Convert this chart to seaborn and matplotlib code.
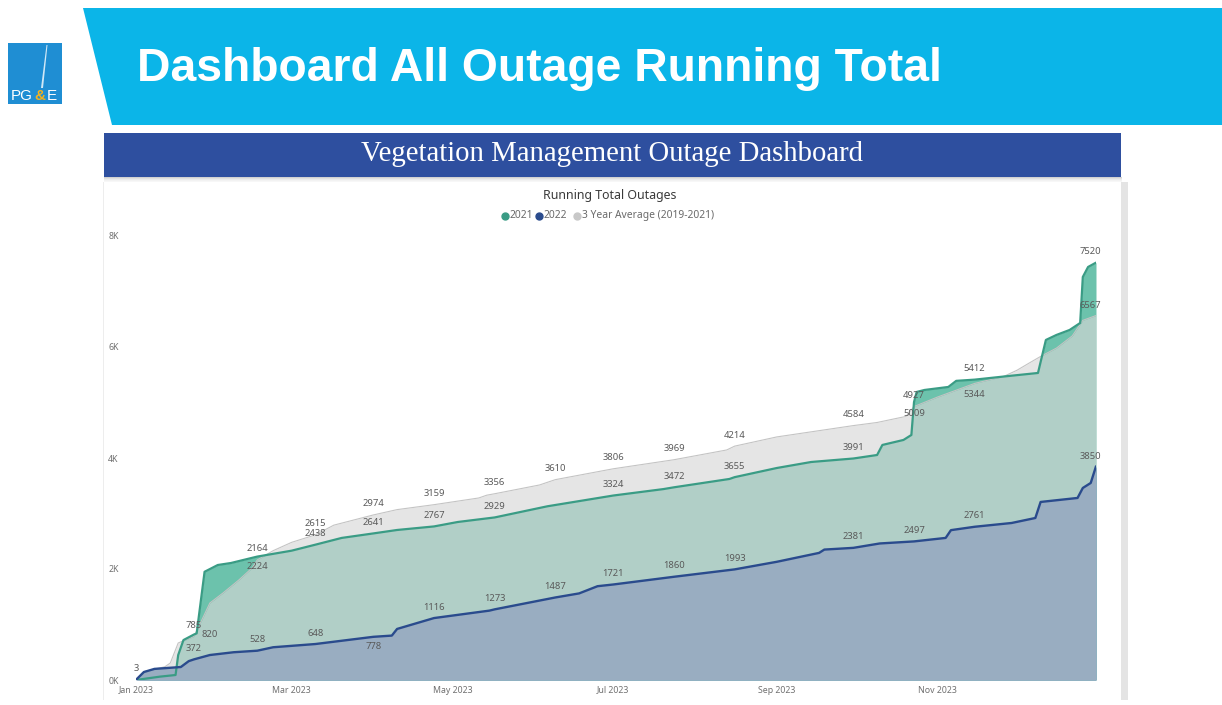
import pandas as pd
import matplotlib
matplotlib.use("Agg")
import matplotlib.pyplot as plt
import matplotlib.dates as mdates
from matplotlib.patches import Polygon, Rectangle
import seaborn as sns

YEAR = "2023"

# Running totals (month-day knots plotted on a 2023 calendar axis)
dates_2021 = ["01-01", "01-10", "01-16", "01-17", "01-19", "01-23", "01-24", "01-27",
              "02-01", "02-06", "02-16", "03-01", "03-10", "03-20", "04-01", "04-10",
              "04-24", "05-03", "05-17", "06-06", "07-01", "07-20", "07-24", "08-14",
              "08-16", "09-01", "09-14", "09-30", "10-09", "10-11", "10-19", "10-22",
              "10-23", "10-24", "10-27", "11-05", "11-08", "11-15", "11-28", "12-09",
              "12-12", "12-16", "12-21", "12-25", "12-26", "12-28", "12-31"]
values_2021 = [0, 60, 90, 450, 720, 820, 840, 1950,
               2072, 2108, 2224, 2330, 2438, 2560, 2641, 2703,
               2767, 2847, 2929, 3130, 3324, 3440, 3472, 3622,
               3655, 3820, 3928, 3991, 4054, 4235, 4325, 4415,
               5009, 5190, 5226, 5280, 5390, 5412, 5478, 5532,
               6127, 6217, 6307, 6433, 7262, 7442, 7520]

dates_2022 = ["01-01", "01-04", "01-08", "01-18", "01-21", "01-23", "01-29", "02-07",
              "02-16", "02-22", "03-10", "04-01", "04-08", "04-10", "04-20", "04-24",
              "05-15", "05-17", "06-09", "06-18", "06-25", "07-01", "07-24", "08-16",
              "09-01", "09-08", "09-17", "09-19", "09-30", "10-10", "10-23", "11-04",
              "11-06", "11-15", "11-29", "12-08", "12-10", "12-24", "12-26", "12-29",
              "12-31"]
values_2022 = [3, 144, 200, 234, 340, 372, 450, 500,
               528, 590, 648, 778, 800, 920, 1060, 1116,
               1250, 1273, 1487, 1560, 1690, 1721, 1860, 1993,
               2130, 2200, 2290, 2350, 2381, 2460, 2497, 2560,
               2700, 2761, 2829, 2919, 3208, 3280, 3460, 3550,
               3850]

dates_avg = ["01-01", "01-04", "01-12", "01-14", "01-17", "01-23", "01-29", "02-03",
             "02-09", "02-14", "02-16", "02-22", "03-01", "03-10", "03-17", "04-01",
             "04-10", "04-24", "05-11", "05-14", "05-17", "06-03", "06-09", "07-01",
             "07-24", "08-13", "08-16", "09-01", "09-30", "10-09", "10-20", "10-23",
             "11-01", "11-15", "11-26", "12-01", "12-06", "12-10", "12-16", "12-22",
             "12-26", "12-31"]
values_avg = [3, 150, 240, 306, 667, 785, 1387, 1568,
              1802, 2018, 2164, 2330, 2480, 2615, 2790, 2974,
              3070, 3159, 3280, 3330, 3356, 3514, 3610, 3806,
              3969, 4145, 4214, 4380, 4584, 4640, 4750, 4927,
              5100, 5344, 5470, 5580, 5720, 5830, 5980, 6200,
              6480, 6567]

# Dates that carry a value label
label_dates_2021 = ["01-23", "02-16", "03-10", "04-01", "04-24", "05-17", "07-01",
                    "07-24", "08-16", "09-30", "10-23", "11-15", "12-31"]
label_dates_2022 = ["01-01", "01-23", "02-16", "03-10", "04-01", "04-24", "05-17",
                    "06-09", "07-01", "07-24", "08-16", "09-30", "10-23", "11-15", "12-31"]
label_dates_avg = ["01-23", "02-16", "03-10", "04-01", "04-24", "05-17", "06-09",
                   "07-01", "07-24", "08-16", "09-30", "10-23", "11-15", "12-31"]

x_tick_dates = ["01-01", "03-01", "05-01", "07-01", "09-01", "11-01"]
y_ticks = [0, 2000, 4000, 6000, 8000]
y_tick_labels = ["0K", "2K", "4K", "6K", "8K"]

series_names = ["2021", "2022", "3 Year Average (2019-2021)"]

# label nudges in pixels (dx, dy), default is just above the point
nudge_2021 = {"01-23": (16, 0), "02-16": (0, -10), "10-23": (0, -11), "12-31": (-6, 11)}
nudge_2022 = {"01-01": (0, 11), "04-01": (0, -10), "12-31": (-6, 10)}
nudge_avg = {"11-15": (0, -11), "12-31": (-6, 10)}

TEAL_LINE = "#3A9C85"
TEAL_FILL = (108 / 255, 194 / 255, 172 / 255)
NAVY_LINE = "#2A4B8D"
NAVY_FILL = (40 / 255, 97 / 255, 154 / 255)
GRAY_FILL = (215 / 255, 215 / 255, 215 / 255)
GRAY_LINE = "#C4C4C4"


def frame(dates, values):
    return pd.DataFrame({"date": pd.to_datetime([f"{YEAR}-{d}" for d in dates]),
                         "value": values})


df21 = frame(dates_2021, values_2021)
df22 = frame(dates_2022, values_2022)
dfav = frame(dates_avg, values_avg)

sns.set_theme(style="white")
plt.rcParams["font.family"] = ["Noto Sans", "DejaVu Sans"]

W, H = 1222, 705
fig = plt.figure(figsize=(W / 100, H / 100), dpi=100)
fig.patch.set_facecolor("white")

# page layer in pixel coordinates
bg = fig.add_axes([0, 0, 1, 1], zorder=0)
bg.set_xlim(0, W)
bg.set_ylim(H, 0)
bg.axis("off")

# cyan slide header
bg.add_patch(Polygon([[83, 8], [W, 8], [W, 125], [112, 125]], closed=True,
                     facecolor="#0BB5E8", lw=0))
bg.text(137, 69, "Dashboard All Outage Running Total", color="white", fontsize=33.3,
        fontweight="bold", family=["Liberation Sans", "DejaVu Sans"], ha="left", va="center")

# company mark
bg.add_patch(Rectangle((8, 43), 54, 61, facecolor="#1F8ED3", lw=0))
bg.add_patch(Polygon([[46.5, 45], [47.5, 45], [43, 88], [41, 88]], closed=True,
                     facecolor="white", alpha=0.8, lw=0))
logo_font = ["Liberation Sans Narrow", "Liberation Sans", "DejaVu Sans"]
bg.text(11, 96, "PG", color="white", fontsize=11, family=logo_font,
        ha="left", va="center")
bg.text(34, 96, "&", color="#F5B21B", fontsize=11, fontweight="bold", family=logo_font,
        ha="left", va="center")
bg.text(47, 96, "E", color="white", fontsize=11, family=logo_font,
        ha="left", va="center")

# dashboard banner with soft shadow
for i, a in enumerate([0.18, 0.12, 0.08, 0.05, 0.03]):
    bg.add_patch(Rectangle((104, 177 + i), 1018, 1.2, facecolor="black", alpha=a, lw=0))
bg.add_patch(Rectangle((104, 133), 1017, 44, facecolor="#2E4F9F", lw=0))
bg.text(612, 154, "Vegetation Management Outage Dashboard", color="white", fontsize=20.7,
        family=["Liberation Serif", "DejaVu Serif"], ha="center", va="center")

# dashboard panel edges
bg.add_patch(Rectangle((1121, 182), 7, 518, facecolor="#E4E4E4", lw=0))
bg.add_patch(Rectangle((103, 182), 1.2, 518, facecolor="#EDEDED", lw=0))

# chart heading and legend
bg.text(610, 195, "Running Total Outages", color="#3A3A3A", fontsize=8.9, fontweight="bold",
        ha="center", va="center")
legend_items = [(505, TEAL_LINE, series_names[0]), (539, NAVY_LINE, series_names[1]),
                (577, "#C8C8C8", series_names[2])]
for lx, lc, name in legend_items:
    bg.plot([lx], [215.5], marker="o", ms=5, color=lc, mec=lc)
    bg.text(lx + 5, 215.5, name, color="#6A6A6A", fontsize=7.4, ha="left", va="center")

# chart area
ax = fig.add_axes([136 / W, (H - 680) / H, (1096 - 136) / W, (680 - 236) / H], zorder=2)
ax.patch.set_alpha(0)

ax.fill_between(df21["date"], df21["value"], color=TEAL_FILL, lw=0, zorder=1)
ax.fill_between(df22["date"], df22["value"], color=NAVY_FILL, lw=0, zorder=2)
ax.fill_between(dfav["date"], dfav["value"], color=GRAY_FILL, alpha=0.65, lw=0, zorder=3)

sns.lineplot(data=dfav, x="date", y="value", ax=ax, color=GRAY_LINE, linewidth=0.8,
             estimator=None, zorder=4)
sns.lineplot(data=df21, x="date", y="value", ax=ax, color=TEAL_LINE, linewidth=1.6,
             estimator=None, zorder=5)
sns.lineplot(data=df22, x="date", y="value", ax=ax, color=NAVY_LINE, linewidth=1.7,
             estimator=None, zorder=6)


def add_labels(df, dates, nudges):
    lookup = dict(zip(df["date"], df["value"]))
    for d in dates:
        dt = pd.Timestamp(f"{YEAR}-{d}")
        v = lookup[dt]
        dx, dy = nudges.get(d, (0, 11))
        ax.annotate(str(v), xy=(dt, v), xytext=(dx * 0.72, dy * 0.72),
                    textcoords="offset points", ha="center", va="center",
                    fontsize=6.8, color="#5A5A5A", zorder=7)


add_labels(dfav, label_dates_avg, nudge_avg)
add_labels(df21, label_dates_2021, nudge_2021)
add_labels(df22, label_dates_2022, nudge_2022)

ax.set_xlim(pd.Timestamp(f"{YEAR}-01-01"), pd.Timestamp(f"{YEAR}-12-31"))
ax.set_ylim(0, 8000)
ax.set_xticks(pd.to_datetime([f"{YEAR}-{d}" for d in x_tick_dates]))
ax.xaxis.set_major_formatter(mdates.DateFormatter("%b %Y"))
ax.set_yticks(y_ticks)
ax.set_yticklabels(y_tick_labels)
ax.tick_params(axis="x", length=0, pad=4, labelsize=6.3, labelcolor="#707070")
ax.tick_params(axis="y", length=0, pad=20, labelsize=6.3, labelcolor="#707070")
for t in ax.get_yticklabels():
    t.set_horizontalalignment("left")
ax.set_xlabel("")
ax.set_ylabel("")
for s in ax.spines.values():
    s.set_visible(False)
ax.grid(False)

fig.savefig("out.png", dpi=100, facecolor="white")
